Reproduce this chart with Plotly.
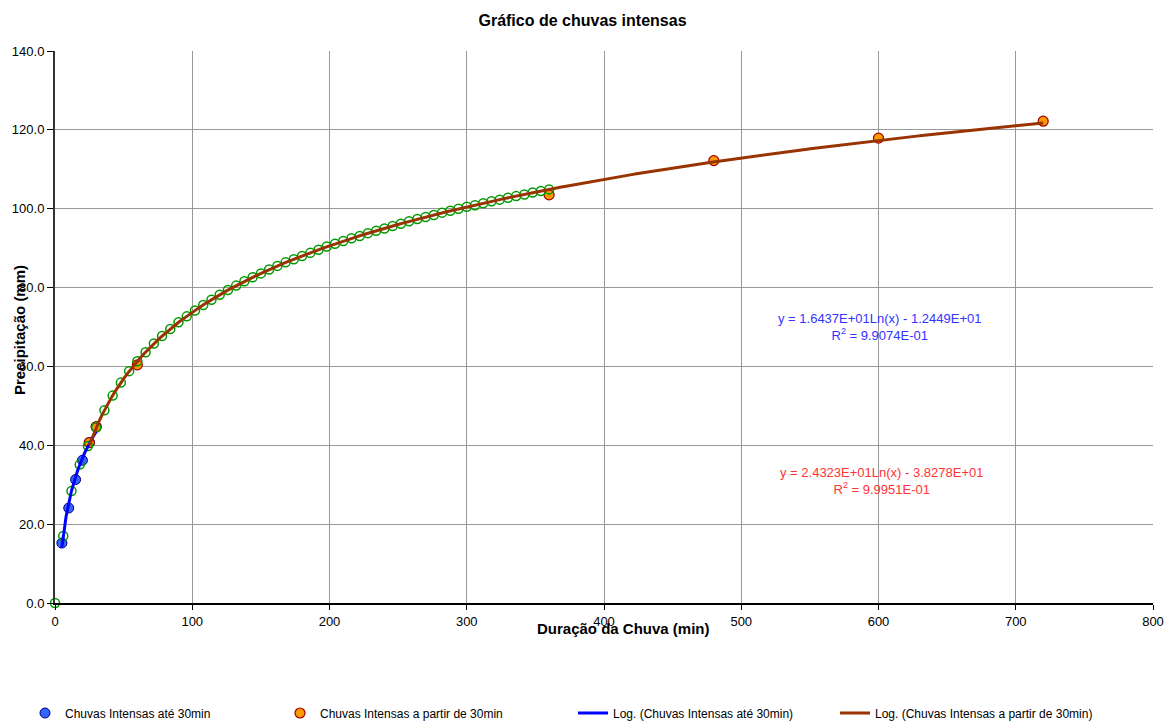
import plotly.graph_objects as go
import numpy as np

# ---- data ----
dur_ate30 = [5, 10, 15, 20, 25, 30]
prec_ate30 = [15.2, 24.1, 31.3, 36.2, 40.7, 44.7]

dur_apartir30 = [25, 30, 60, 360, 480, 600, 720]
prec_apartir30 = [40.7, 44.7, 60.4, 103.5, 112.2, 117.9, 122.2]

dur_curve = list(range(0, 361, 6))
prec_curve = [0.0, 17.0, 28.4, 35.1, 39.8, 44.5, 48.9, 52.6, 55.9, 58.8, 61.3,
              63.6, 65.8, 67.7, 69.5, 71.2, 72.7, 74.2, 75.6, 76.9, 78.2,
              79.4, 80.5, 81.6, 82.6, 83.6, 84.6, 85.5, 86.4, 87.2, 88.0,
              88.8, 89.6, 90.4, 91.1, 91.8, 92.5, 93.1, 93.8, 94.4, 95.0,
              95.6, 96.2, 96.8, 97.4, 97.9, 98.4, 99.0, 99.5, 100.0, 100.5,
              100.9, 101.4, 101.9, 102.3, 102.8, 103.2, 103.6, 104.1, 104.5, 104.9]

# trendline coefficients (from the equations printed on the chart)
a_blue, b_blue = 16.437, -12.449
a_red, b_red = 24.323, -38.278

x_tl_blue = np.linspace(min(dur_ate30), max(dur_ate30), 60)
y_tl_blue = a_blue * np.log(x_tl_blue) + b_blue
x_tl_red = np.linspace(min(dur_apartir30), max(dur_apartir30), 300)
y_tl_red = a_red * np.log(x_tl_red) + b_red

FONT = "Arial, Liberation Sans, sans-serif"

fig = go.Figure()
fig.add_trace(go.Scatter(x=dur_ate30, y=prec_ate30, mode="markers",
                         name="Chuvas Intensas até 30min", legend="legend",
                         marker=dict(symbol="circle", size=10, color="#3366FF",
                                     line=dict(color="#000080", width=1))))
fig.add_trace(go.Scatter(x=dur_apartir30, y=prec_apartir30, mode="markers",
                         name="Chuvas Intensas a partir de 30min", legend="legend2",
                         marker=dict(symbol="circle", size=10, color="#FF9900",
                                     line=dict(color="#990000", width=1.2))))
fig.add_trace(go.Scatter(x=dur_curve, y=prec_curve, mode="markers", showlegend=False,
                         cliponaxis=False,
                         marker=dict(symbol="circle-open", size=9, color="#009900",
                                     line=dict(color="#009900", width=1.5))))
fig.add_trace(go.Scatter(x=x_tl_blue, y=y_tl_blue, mode="lines", legend="legend3",
                         name="Log. (Chuvas Intensas até 30min)",
                         line=dict(color="#0000FF", width=3)))
fig.add_trace(go.Scatter(x=x_tl_red, y=y_tl_red, mode="lines", legend="legend4",
                         name="Log. (Chuvas Intensas a partir de 30min)",
                         line=dict(color="#993300", width=3)))

L, R, T, B = 55, 12, 51, 119
W, H = 1165, 722
pw, ph = W - L - R, H - T - B

def px(xp):
    return (xp - L) / pw

def py(yp):
    return (H - B - yp) / ph

leg_common = dict(orientation="h", yanchor="middle", xanchor="left",
                  font=dict(family=FONT, size=12, color="#000000"),
                  bgcolor="rgba(0,0,0,0)", borderwidth=0)

fig.update_layout(
    width=W, height=H,
    margin=dict(l=L, r=R, t=T, b=B, autoexpand=False),
    paper_bgcolor="white", plot_bgcolor="white",
    font=dict(family=FONT, size=12, color="#000000"),
    title=dict(text="<b>Gráfico de chuvas intensas</b>", x=0.5, xref="container",
               y=1 - 20 / H, yref="container", xanchor="center", yanchor="middle",
               font=dict(family=FONT, size=16, color="#000000")),
    xaxis=dict(range=[0, 800], tickvals=list(range(0, 801, 100)),
               showgrid=True, gridcolor="#999999", gridwidth=1,
               showline=True, linecolor="#000000", linewidth=2,
               ticks="outside", ticklen=5, tickcolor="#000000",
               tickfont=dict(family=FONT, size=13, color="#000000"),
               zeroline=False, automargin=False),
    yaxis=dict(range=[0, 140], tickvals=list(range(0, 141, 20)), tickformat=".1f",
               showgrid=True, gridcolor="#999999", gridwidth=1,
               showline=True, linecolor="#333333", linewidth=2,
               ticks="outside", ticklen=6, tickcolor="#000000",
               tickfont=dict(family=FONT, size=13, color="#000000"),
               zeroline=False, automargin=False),
    legend=dict(x=px(25), y=py(713), **leg_common),
    legend2=dict(x=px(280), y=py(713), **leg_common),
    legend3=dict(x=px(573), y=py(713), **leg_common),
    legend4=dict(x=px(835), y=py(713), **leg_common),
)

fig.add_annotation(text="<b>Duração da Chuva (min)</b>", x=px(624), y=py(628),
                   xref="paper", yref="paper", showarrow=False,
                   xanchor="center", yanchor="middle",
                   font=dict(family=FONT, size=15, color="#000000"))
fig.add_annotation(text="<b>Precipitação (mm)</b>", x=px(19), y=py(330),
                   xref="paper", yref="paper", showarrow=False, textangle=-90,
                   xanchor="center", yanchor="middle",
                   font=dict(family=FONT, size=15, color="#000000"))

eq_font_blue = dict(family=FONT, size=13, color="#3333FF")
eq_font_red = dict(family=FONT, size=13, color="#FF3333")
fig.add_annotation(text="y = 1.6437E+01Ln(x) - 1.2449E+01<br>R<sup>2</sup> = 9.9074E-01",
                   x=px(879), y=py(327), xref="paper", yref="paper", showarrow=False,
                   xanchor="center", yanchor="middle",
                   align="center", font=eq_font_blue)
fig.add_annotation(text="y = 2.4323E+01Ln(x) - 3.8278E+01<br>R<sup>2</sup> = 9.9951E-01",
                   x=px(881), y=py(481), xref="paper", yref="paper", showarrow=False,
                   xanchor="center", yanchor="middle",
                   align="center", font=eq_font_red)

fig.write_html("out.html", config={"displayModeBar": False},
               post_script="document.body.style.margin='0';"
                           "document.body.style.overflow='hidden';")
